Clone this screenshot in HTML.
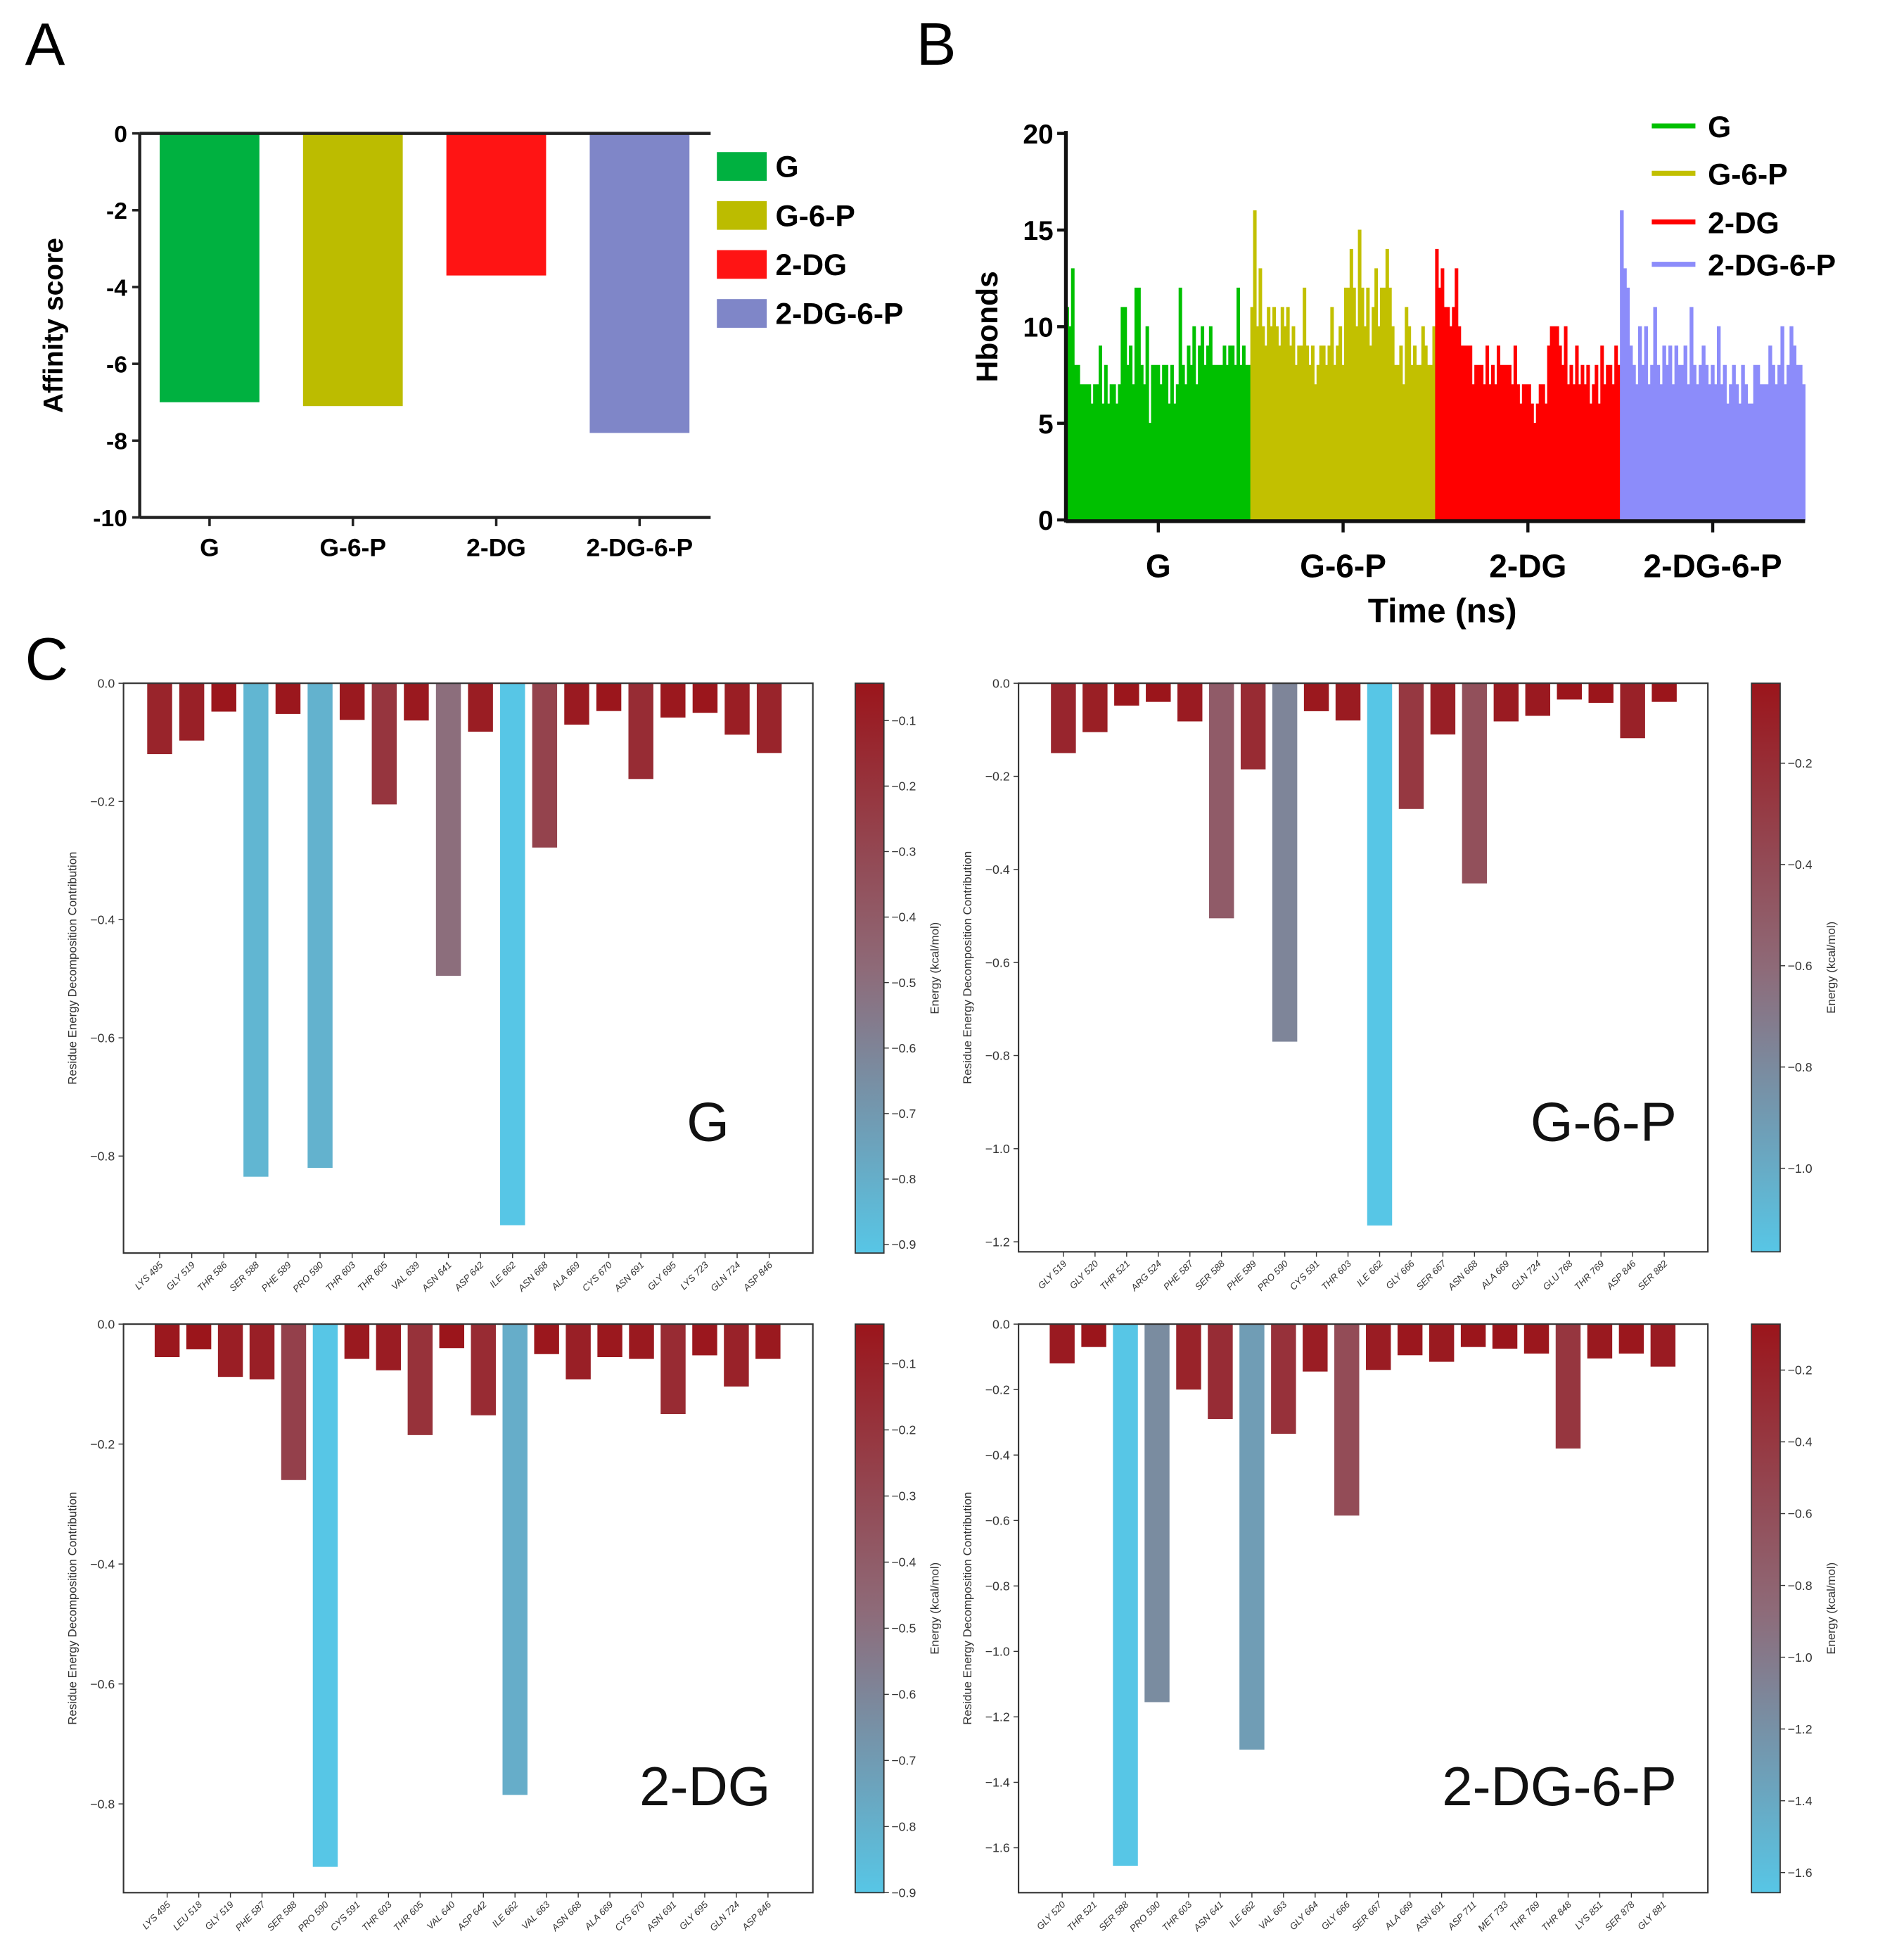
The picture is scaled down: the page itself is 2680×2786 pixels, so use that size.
<!DOCTYPE html>
<html><head><meta charset="utf-8">
<style>
html,body{margin:0;padding:0;background:#fff;}
svg{display:block;}
text{font-family:"Liberation Sans",sans-serif;}
</style></head>
<body>
<svg id="fig" xmlns="http://www.w3.org/2000/svg" width="2680" height="2786" viewBox="0 0 1512 1572">
<rect x="0" y="0" width="1512" height="1572" fill="#fff"/>
<text x="20" y="52" font-size="48">A</text>
<text x="735" y="52" font-size="48">B</text>
<text x="20" y="545" font-size="48">C</text>
<g id="pa"></g>
<g id="pb"></g>
<g id="pc1"></g>
<g id="pc2"></g>
<g id="pc3"></g>
<g id="pc4"></g>
</svg>
<script>
// ---- Panel A data ----
const affCats = ["G","G-6-P","2-DG","2-DG-6-P"];
const affVals = [-7.0,-7.1,-3.7,-7.8];
const affColors = ["#00b140","#bcbc00","#ff1414","#7f86c8"];
const affTicks = [0,-2,-4,-6,-8,-10];
// ---- Panel B data ----
const hbCats = ["G","G-6-P","2-DG","2-DG-6-P"];
const hbG = [11,10,13,8,8,7,7,7,7,6,7,7,9,6,8,6,7,7,6,7,11,11,8,9,7,12,12,8,7,10,5,8,8,8,7,8,8,6,8,6,7,12,8,7,9,8,10,7,9,10,8,9,10,8,8,8,8,9,8,9,9,8,12,8,9,8,8];
const hbG6P = [11,16,10,13,10,9,11,10,11,10,9,11,10,11,9,10,8,9,9,12,9,8,9,7,8,9,9,8,9,11,8,9,10,8,12,12,14,12,10,15,12,10,12,9,11,13,10,12,12,14,12,10,8,8,9,7,11,10,8,9,8,8,10,9,8,8,10];
const hb2DG = [14,12,13,11,11,10,11,13,10,9,9,9,9,7,8,8,8,7,9,7,8,7,9,8,8,8,8,7,9,7,6,7,7,7,6,5,6,7,7,6,9,10,10,10,9,8,10,7,8,7,9,7,8,7,8,6,7,8,6,9,7,8,8,7,9,8];
const hb2DG6P = [16,13,12,9,8,7,10,8,10,7,8,11,8,7,9,8,9,7,9,8,8,9,7,11,8,7,8,9,8,7,8,7,10,7,8,6,7,8,7,6,8,7,6,6,8,8,7,7,7,9,8,7,8,10,7,8,10,9,8,8,7];
const hbColors = ["#00c000","#c2c000","#ff0000","#8c8cfa"];
const hbTicks = [0,5,10,15,20];
// ---- Panel C data ----
const resG = ["LYS 495","GLY 519","THR 586","SER 588","PHE 589","PRO 590","THR 603","THR 605","VAL 639","ASN 641","ASP 642","ILE 662","ASN 668","ALA 669","CYS 670","ASN 691","GLY 695","LYS 723","GLN 724","ASP 846"];
const enG = [-0.12,-0.097,-0.048,-0.835,-0.052,-0.82,-0.062,-0.205,-0.063,-0.495,-0.082,-0.917,-0.278,-0.07,-0.047,-0.162,-0.058,-0.05,-0.087,-0.118];
const ticksG = [0,-0.2,-0.4,-0.6,-0.8];
const cbTicksG = [-0.1,-0.2,-0.3,-0.4,-0.5,-0.6,-0.7,-0.8,-0.9];
const resG6P = ["GLY 519","GLY 520","THR 521","ARG 524","PHE 587","SER 588","PHE 589","PRO 590","CYS 591","THR 603","ILE 662","GLY 666","SER 667","ASN 668","ALA 669","GLN 724","GLU 768","THR 769","ASP 846","SER 882"];
const enG6P = [-0.15,-0.105,-0.048,-0.04,-0.082,-0.505,-0.185,-0.77,-0.06,-0.08,-1.165,-0.27,-0.11,-0.43,-0.082,-0.07,-0.035,-0.042,-0.118,-0.04];
const ticksG6P = [0,-0.2,-0.4,-0.6,-0.8,-1.0,-1.2];
const cbTicksG6P = [-0.2,-0.4,-0.6,-0.8,-1.0];
const res2DG = ["LYS 495","LEU 518","GLY 519","PHE 587","SER 588","PRO 590","CYS 591","THR 603","THR 605","VAL 640","ASP 642","ILE 662","VAL 663","ASN 668","ALA 669","CYS 670","ASN 691","GLY 695","GLN 724","ASP 846"];
const en2DG = [-0.055,-0.042,-0.088,-0.092,-0.26,-0.905,-0.058,-0.077,-0.185,-0.04,-0.152,-0.785,-0.05,-0.092,-0.055,-0.058,-0.15,-0.052,-0.104,-0.058];
const ticks2DG = [0,-0.2,-0.4,-0.6,-0.8];
const cbTicks2DG = [-0.1,-0.2,-0.3,-0.4,-0.5,-0.6,-0.7,-0.8,-0.9];
const res2DG6P = ["GLY 520","THR 521","SER 588","PRO 590","THR 603","ASN 641","ILE 662","VAL 663","GLY 664","GLY 666","SER 667","ALA 669","ASN 691","ASP 711","MET 733","THR 769","THR 848","LYS 851","SER 878","GLY 881"];
const en2DG6P = [-0.12,-0.07,-1.655,-1.155,-0.2,-0.29,-1.3,-0.335,-0.145,-0.585,-0.14,-0.095,-0.115,-0.07,-0.075,-0.09,-0.38,-0.105,-0.09,-0.13];
const ticks2DG6P = [0,-0.2,-0.4,-0.6,-0.8,-1.0,-1.2,-1.4,-1.6];
const cbTicks2DG6P = [-0.2,-0.4,-0.6,-0.8,-1.0,-1.2,-1.4,-1.6];

const NS="http://www.w3.org/2000/svg";
function mk(parent,tag,attrs,txt){const e=document.createElementNS(NS,tag);for(const k in attrs)e.setAttribute(k,attrs[k]);if(txt!==undefined)e.textContent=txt;parent.appendChild(e);return e;}
function fmt(v){return (v<0?"\u2212":"")+Math.abs(v).toFixed(1);}

// ===== Panel A =====
(function(){
const g=document.getElementById('pa');
const y0=107,y1=415,x0=112,x1=570;
const ys=v=>y0+(0-v)/10*(y1-y0);
const xc=i=>168+i*115;
affCats.forEach((c,i)=>{
  const r=mk(g,'rect',{x:xc(i)-40,y:ys(0),width:80,height:ys(affVals[i])-ys(0),fill:affColors[i]});
  
  
  const t=mk(g,'text',{x:xc(i),y:446,'font-size':20,'font-weight':'bold','text-anchor':'middle'},c);
  
  
  mk(g,'line',{x1:xc(i),x2:xc(i),y1:y1,y2:y1+7,stroke:'#222','stroke-width':2});
});
mk(g,'line',{x1:x0,x2:x1,y1:y0,y2:y0,stroke:'#222','stroke-width':2.5});
mk(g,'line',{x1:x0,x2:x0,y1:y0,y2:y1,stroke:'#222','stroke-width':2.5});
mk(g,'line',{x1:x0,x2:x1,y1:y1,y2:y1,stroke:'#222','stroke-width':2.5});
affTicks.forEach(v=>{
  mk(g,'line',{x1:x0-6,x2:x0,y1:ys(v),y2:ys(v),stroke:'#222','stroke-width':2});
  const t=mk(g,'text',{x:x0-10,y:ys(v)+7,'font-size':19,'font-weight':'bold','text-anchor':'end'},String(v));
  
  
});
const yl=mk(g,'text',{x:50,y:261,'font-size':22,'font-weight':'bold','text-anchor':'middle',transform:'rotate(-90 50 261)'},'Affinity score');


affCats.forEach((c,i)=>{
  const yy=122+i*39.3;
  const s=mk(g,'rect',{x:575,y:yy,width:40,height:23,fill:affColors[i]});
  
  
  const t=mk(g,'text',{x:622,y:yy+20,'font-size':24,'font-weight':'bold'},c);
  
  
});
})();

// ===== Panel B =====
(function(){
const g=document.getElementById('pb');
const x0=855,x1=1448,y0=417,y1=107;
const ys=v=>y0-v/20*(y0-y1);
const series=[hbG,hbG6P,hb2DG,hb2DG6P];
const segW=(x1-x0)/4;
series.forEach((arr,si)=>{
  const sx=x0+si*segW, step=segW/arr.length;
  let d='M'+sx+' '+ys(0);
  arr.forEach((v,i)=>{d+=' L'+(sx+i*step)+' '+ys(v)+' L'+(sx+(i+1)*step)+' '+ys(v);});
  d+=' L'+(sx+segW)+' '+ys(0)+' Z';
  const p=mk(g,'path',{d:d,fill:hbColors[si],stroke:hbColors[si],'stroke-width':0.6});
  
  
  const xc=sx+segW/2;
  mk(g,'line',{x1:xc,x2:xc,y1:y0,y2:y0+10,stroke:'#111','stroke-width':2.5});
  const t=mk(g,'text',{x:xc-14*(si==0?0:0),y:463,'font-size':26,'font-weight':'bold','text-anchor':'middle'},hbCats[si]);
  
  
});
mk(g,'line',{x1:x0,x2:x0,y1:y1-2,y2:y0+2,stroke:'#111','stroke-width':3});
mk(g,'line',{x1:x0,x2:x1,y1:y0+1,y2:y0+1,stroke:'#111','stroke-width':3});
hbTicks.forEach(v=>{
  mk(g,'line',{x1:x0-7,x2:x0,y1:ys(v),y2:ys(v),stroke:'#111','stroke-width':2.5});
  const t=mk(g,'text',{x:x0-10,y:ys(v)+8,'font-size':22,'font-weight':'bold','text-anchor':'end'},String(v));
  
  
});
const xl=mk(g,'text',{x:1157,y:499,'font-size':27,'font-weight':'bold','text-anchor':'middle'},'Time (ns)');


const yl=mk(g,'text',{x:800,y:262,'font-size':24,'font-weight':'bold','text-anchor':'middle',transform:'rotate(-90 800 262)'},'Hbonds');


const ly=[101,139,178,212];
hbCats.forEach((c,i)=>{
  mk(g,'line',{x1:1325,x2:1360,y1:ly[i],y2:ly[i],stroke:hbColors[i],'stroke-width':4});
  const t=mk(g,'text',{x:1370,y:ly[i]+9,'font-size':24,'font-weight':'bold'},c);
  
  
});
})();

// ===== Panel C =====
function cmap(t){ // t=1 high (red), 0 low (cyan)
  const a=[155,21,27],m=[142,106,120],b=[87,198,230];
  let c;
  if(t>=0.5){const u=(t-0.5)/0.5;c=m.map((x,k)=>x+(a[k]-x)*u);}else{const u=t/0.5;c=b.map((x,k)=>x+(m[k]-x)*u);}
  return 'rgb('+c.map(Math.round).join(',')+')';
}
function decomp(id,res,en,ticks,cbTicks,opts){
  const g=document.getElementById(id);
  const {ax0,ax1,ay0,ay1,yPerUnit,c0,c1,cbX,cbTop,cbBot,vmax,vmin,name,first,last}=opts;
  const ys=v=>ay0-v*yPerUnit;
  const xs=i=>first+i*(last-first)/(res.length-1);
  const cy=v=>cbTop+(vmax-v)/(vmax-vmin)*(cbBot-cbTop);
  res.forEach((r,i)=>{
    const t=Math.max(0,Math.min(1,(en[i]-vmin)/(vmax-vmin)));
    const b=mk(g,'rect',{x:xs(i)-10,y:ys(0),width:20,height:ys(en[i])-ys(0),fill:cmap(t)});
    
    
    mk(g,'line',{x1:xs(i),x2:xs(i),y1:ay1,y2:ay1+4,stroke:'#333','stroke-width':0.8});
    const tx=xs(i)+3,ty=ay1+10;
    const lab=mk(g,'text',{x:tx,y:ty,'font-size':7.5,'font-style':'italic','text-anchor':'end',fill:'#333',transform:'rotate(-45 '+tx+' '+ty+')'},r);
    
    
  });
  mk(g,'rect',{x:ax0,y:ay0,width:ax1-ax0,height:ay1-ay0,fill:'none',stroke:'#333','stroke-width':1.2});
  ticks.forEach(v=>{
    mk(g,'line',{x1:ax0-4,x2:ax0,y1:ys(v),y2:ys(v),stroke:'#333','stroke-width':0.8});
    const t=mk(g,'text',{x:ax0-7,y:ys(v)+3.5,'font-size':10,'text-anchor':'end',fill:'#333'},fmt(v));
    
    
  });
  const ymid=(ay0+ay1)/2;
  const yl=mk(g,'text',{x:ax0-38,y:ymid,'font-size':9.5,'text-anchor':'middle',fill:'#333',transform:'rotate(-90 '+(ax0-38)+' '+ymid+')'},'Residue Energy Decomposition Contribution');
  
  
  const lbl=mk(g,'text',{x:opts.lx,y:opts.ly,'font-size':44,'text-anchor':'end',fill:'#111'},name);
  
  
  // colorbar
  const gid='grad-'+id;
  const defs=mk(g,'defs',{});
  const lg=mk(defs,'linearGradient',{id:gid,x1:0,y1:0,x2:0,y2:1});
  for(let k=0;k<=10;k++){mk(lg,'stop',{offset:(k/10),'stop-color':cmap(1-k/10)});}
  const cb=mk(g,'rect',{x:cbX,y:cbTop,width:23,height:cbBot-cbTop,fill:'url(#'+gid+')',stroke:'#333','stroke-width':1});
  
  
  cbTicks.forEach(v=>{
    mk(g,'line',{x1:cbX+23,x2:cbX+27,y1:cy(v),y2:cy(v),stroke:'#333','stroke-width':0.8});
    const t=mk(g,'text',{x:cbX+29,y:cy(v)+3.5,'font-size':10,fill:'#333'},fmt(v));
    
    
  });
  const cx=cbX+67;
  const cl=mk(g,'text',{x:cx,y:ymid,'font-size':9.5,'text-anchor':'middle',fill:'#333',transform:'rotate(-90 '+cx+' '+ymid+')'},'Energy (kcal/mol)');
  
  
}
decomp('pc1',resG,enG,ticksG,cbTicksG,{ax0:99,ax1:652,ay0:548,ay1:1005,yPerUnit:474,cbX:686,cbTop:548,cbBot:1005,vmax:-0.043,vmin:-0.913,name:'G',first:128,last:617,lx:585,ly:915});
decomp('pc2',resG6P,enG6P,ticksG6P,cbTicksG6P,{ax0:817,ax1:1370,ay0:548,ay1:1004,yPerUnit:373.3,cbX:1405,cbTop:548,cbBot:1004,vmax:-0.042,vmin:-1.165,name:'G-6-P',first:853,last:1335,lx:1345,ly:915});
decomp('pc3',res2DG,en2DG,ticks2DG,cbTicks2DG,{ax0:99,ax1:652,ay0:1062,ay1:1518,yPerUnit:481,cbX:686,cbTop:1062,cbBot:1518,vmax:-0.04,vmin:-0.9,name:'2-DG',first:134,last:616,lx:618,ly:1448});
decomp('pc4',res2DG6P,en2DG6P,ticks2DG6P,cbTicks2DG6P,{ax0:817,ax1:1370,ay0:1062,ay1:1518,yPerUnit:262.5,cbX:1405,cbTop:1062,cbBot:1518,vmax:-0.072,vmin:-1.656,name:'2-DG-6-P',first:852,last:1334,lx:1345,ly:1448});
</script>
</body></html>
